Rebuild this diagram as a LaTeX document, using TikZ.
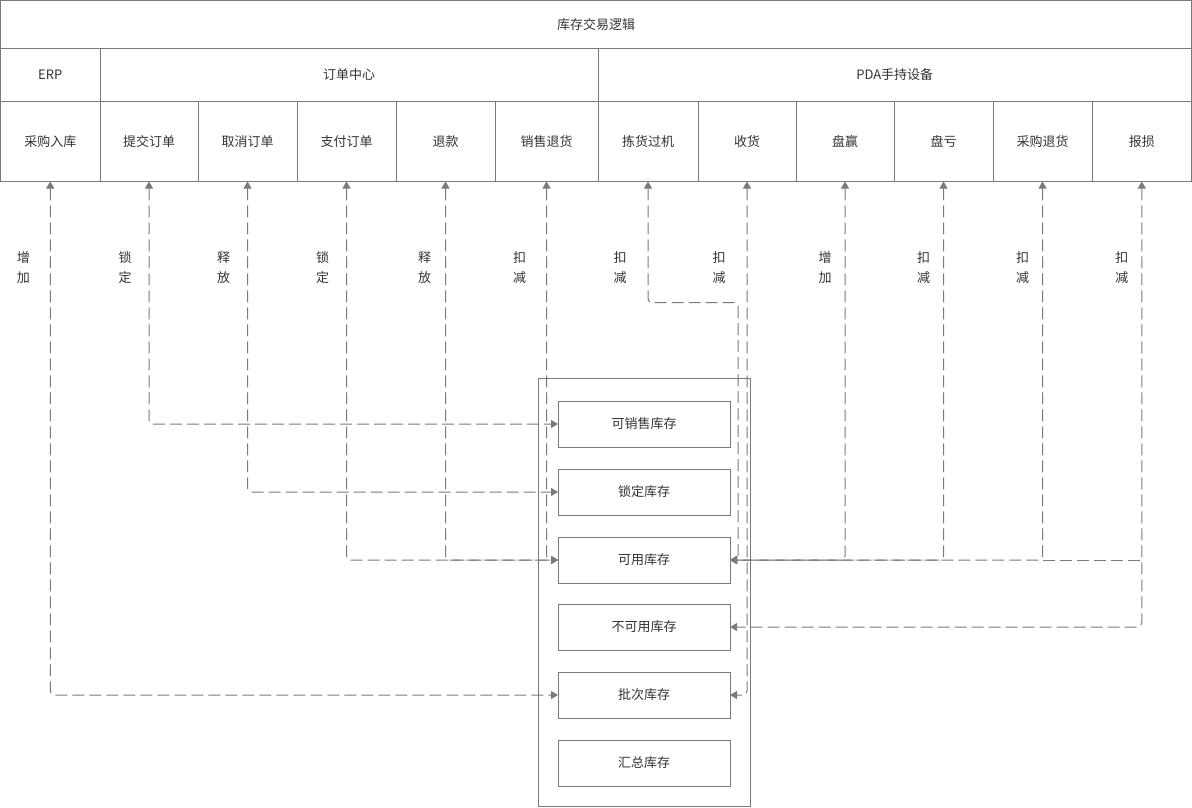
\documentclass[tikz,border=0pt]{standalone}
\usepackage{fontspec}
\setmainfont{Noto Sans CJK SC}
\usetikzlibrary{arrows.meta}
\definecolor{edgegray}{HTML}{7A7A7A}
\definecolor{txtgray}{HTML}{333333}

\begin{document}
\begin{tikzpicture}[x=1pt,y=-1pt,
cell/.style={
	rectangle,draw=edgegray,line width=1pt,inner sep=0pt,outer sep=0pt,
	text=txtgray,font=\fontsize{13}{15}\selectfont},
stock/.style={cell,minimum width=172,minimum height=46},
tag/.style={text=txtgray,align=center,font=\fontsize{13}{20}\selectfont},
link/.style={draw=edgegray,line width=1pt,dash pattern=on 12pt off 5pt,rounded corners=4pt,
	{Triangle[width=8pt,length=7pt]}-{Triangle[width=8pt,length=7pt]}}
]
\useasboundingbox (0,0) rectangle (1192,807);
% header table
\node[cell,minimum width=1191,minimum height=48] (title) at (596,24.5) {库存交易逻辑};
\node[cell,minimum width=99.5,minimum height=52.5] (erp) at (50.25,74.75) {ERP};
\node[cell,minimum width=498,minimum height=52.5] (ddzx) at (349,74.75) {订单中心};
\node[cell,minimum width=593.5,minimum height=52.5] (pda) at (894.75,74.75) {PDA手持设备};
\foreach \l/\r/\n/\t in {0.5/100/cgrk/采购入库, 100/198/tjdd/提交订单, 198/297/qxdd/取消订单,
	297/396/zfdd/支付订单, 396/495/tk/退款, 495/598/xsth/销售退货, 598/698/jhgj/拣货过机,
	698/796/sh/收货, 796/894/py/盘赢, 894/993/pk/盘亏, 993/1092/cgth/采购退货, 1092/1191.5/bs/报损}
	\node[cell,minimum width=\r-\l,minimum height=80.5] (\n) at ({(\l+\r)/2},141.25) {\t};

% stock container
\node[cell,minimum width=212,minimum height=428] (kc) at (644,592) {};
\node[stock] (kxs) at (644,424) {可销售库存};
\node[stock] (sdkc) at (644,492) {锁定库存};
\node[stock] (kykc) at (644,560) {可用库存};
\node[stock] (bky) at (644,627) {不可用库存};
\node[stock] (pckc) at (644,695) {批次库存};
\node[stock] (hzkc) at (644,763) {汇总库存};

% connectors
\draw[link] (cgrk.south) |- (pckc.west);
\foreach \f/\t in {tjdd/kxs, qxdd/sdkc, zfdd/kykc, tk/kykc, xsth/kykc}
	\draw[link] (\f.south) |- (\t.west);
\draw[link] (jhgj.south) -- ++(0,121) -| ([xshift=8]kykc.east) -- (kykc.east);
\draw[link] (sh.south) |- (pckc.east);
\foreach \f in {py, pk, cgth}
	\draw[link] (\f.south) |- (kykc.east);
\draw[link,-] (cgth.south |- kykc.east) -- (bs.south |- kykc.east);
\draw[link] (bs.south) |- (bky.east);

% labels
\foreach \n/\d/\t in {cgrk/27/{增\\加}, tjdd/24/{锁\\定}, qxdd/24/{释\\放}, zfdd/24/{锁\\定},
	tk/21/{释\\放}, xsth/27/{扣\\减}, jhgj/28/{扣\\减}, sh/28/{扣\\减}, py/20/{增\\加},
	pk/20/{扣\\减}, cgth/20/{扣\\减}, bs/20/{扣\\减}}
	\node[tag] at ([xshift=-\d]\n.south |- 0,268) {\t};
\end{tikzpicture}
\end{document}
